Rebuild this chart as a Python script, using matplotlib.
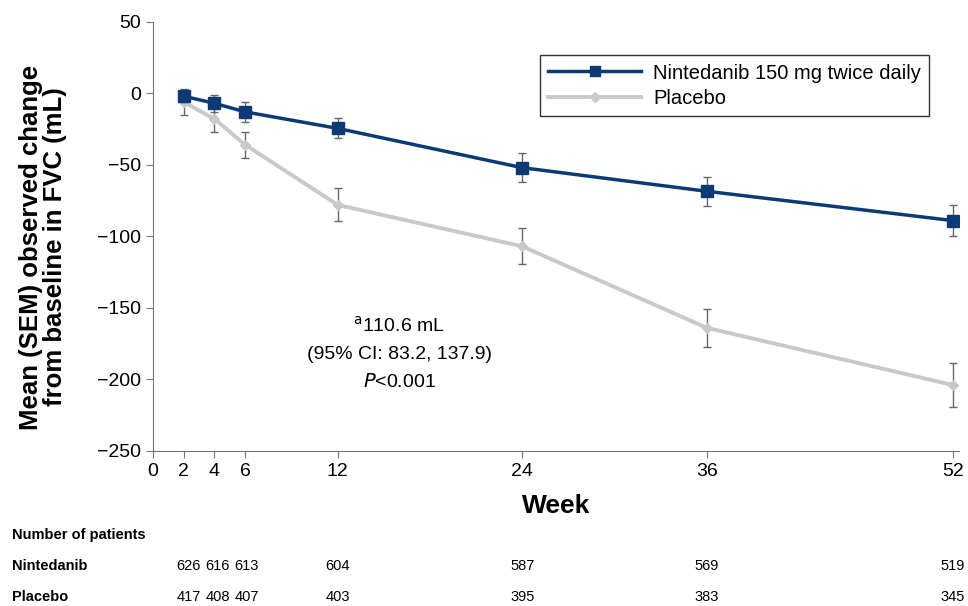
import numpy as np
import matplotlib.pyplot as plt
from matplotlib import transforms
from matplotlib.lines import Line2D

plt.rcParams['font.family'] = ['Liberation Sans', 'DejaVu Sans']

weeks = [2, 4, 6, 12, 24, 36, 52]
nint_mean = [-2, -7, -13, -24.5, -52, -68.5, -89]
nint_sem = [4, 6, 7, 7, 10, 10, 11]
plac_mean = [-6, -18, -36, -78, -107, -164, -204]
plac_sem = [9, 9, 9, 11.5, 12.5, 13.5, 15.5]
nint_n = [626, 616, 613, 604, 587, 569, 519]
plac_n = [417, 408, 407, 403, 395, 383, 345]
xticks = [0, 2, 4, 6, 12, 24, 36, 52]

navy = '#0b3a74'
grey = '#c9c9c9'

fig = plt.figure(figsize=(9.68, 6.06), dpi=100)
ax = fig.add_axes([0.158, 0.256, 0.833, 0.708])

ax.errorbar(weeks, plac_mean, yerr=plac_sem, color=grey, lw=2.8, marker='D', ms=5,
            ecolor='#666666', elinewidth=1, capsize=3, capthick=1, zorder=2)
ax.errorbar(weeks, nint_mean, yerr=nint_sem, color=navy, lw=2.5, marker='s', ms=8,
            ecolor='#666666', elinewidth=1, capsize=3, capthick=1, zorder=3)

ax.set_xlim(0, 52.4)
ax.set_ylim(-250, 50)
ax.set_xticks(xticks)
ax.set_yticks(np.arange(-250, 51, 50))
ax.set_yticklabels([str(v).replace('-', '\u2212') for v in range(-250, 51, 50)])
ax.tick_params(labelsize=14, color='#777777', length=5)
for s in ['top', 'right']:
    ax.spines[s].set_visible(False)
for s in ['left', 'bottom']:
    ax.spines[s].set_color('#777777')

ax.set_ylabel('Mean (SEM) observed change\nfrom baseline in FVC (mL)', fontsize=18.5,
              fontweight='bold', linespacing=1.0)
ax.yaxis.set_label_coords(-0.107, 0.475)
ax.set_xlabel('Week', fontsize=19, fontweight='bold', labelpad=10)

handles = [Line2D([], [], color=navy, lw=2.5, marker='s', ms=7),
           Line2D([], [], color=grey, lw=2.8, marker='D', ms=5)]
labels = ['Nintedanib 150 mg twice daily', 'Placebo']
ax.legend(handles, labels, loc='upper right', bbox_to_anchor=(0.975, 0.945), fontsize=14.5,
          frameon=True, fancybox=False, edgecolor='#333333', handlelength=4.6,
          borderpad=0.4, labelspacing=0.3, handletextpad=0.6, framealpha=1)

ax.text(16, -167, r'$^{\mathrm{a}}$110.6 mL', ha='center', fontsize=14)
ax.text(16, -186, '(95% CI: 83.2, 137.9)', ha='center', fontsize=14)
ax.text(16, -205, r'$\mathit{P}$<0.001', ha='center', fontsize=14)

tr = transforms.blended_transform_factory(ax.transData, fig.transFigure)
fig.text(12 / 968, 1 - 535 / 606, 'Number of patients', fontsize=10.5, fontweight='bold',
         va='center')
fig.text(12 / 968, 1 - 566 / 606, 'Nintedanib', fontsize=10.5, fontweight='bold', va='center')
fig.text(12 / 968, 1 - 597 / 606, 'Placebo', fontsize=10.5, fontweight='bold', va='center')
offs = [0.3, 0.2, 0.1, 0, 0, 0, 0]
for w, a, b, o in zip(weeks, nint_n, plac_n, offs):
    ax.text(w + o, 1 - 566 / 606, str(a), transform=tr, ha='center', va='center', fontsize=10.5)
    ax.text(w + o, 1 - 597 / 606, str(b), transform=tr, ha='center', va='center', fontsize=10.5)

fig.savefig('out.png', dpi=100)
